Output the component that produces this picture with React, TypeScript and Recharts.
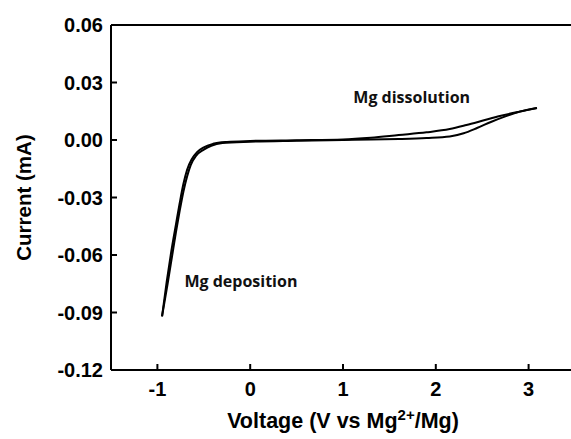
import React from 'react';
import { LineChart, Line, XAxis, YAxis, ReferenceLine, ReferenceDot, Label } from 'recharts';

// Cyclic voltammogram: two sweep branches that meet at the vertex potentials.
const upperVoltage = [-0.95, -0.9, -0.85, -0.8, -0.76, -0.72, -0.68, -0.63, -0.57, -0.5, -0.4, -0.25, 0, 0.5, 1.0, 1.3, 1.6, 1.9, 2.15, 2.33, 2.5, 2.69, 2.9, 3.09];
const upperCurrent = [-0.092, -0.074, -0.058, -0.044, -0.033, -0.023, -0.0155, -0.01, -0.0062, -0.0038, -0.002, -0.001, -0.0005, -0.0001, 0.0003, 0.0012, 0.0026, 0.004, 0.0057, 0.0078, 0.01, 0.0125, 0.0148, 0.0167];

const lowerVoltage = [-0.95, -0.89, -0.84, -0.8, -0.76, -0.72, -0.68, -0.64, -0.58, -0.5, -0.42, -0.3, 0, 0.5, 1.0, 1.3, 1.6, 1.9, 2.15, 2.3, 2.45, 2.6, 2.75, 2.9, 3.09];
const lowerCurrent = [-0.092, -0.075, -0.06, -0.048, -0.037, -0.027, -0.019, -0.013, -0.008, -0.005, -0.003, -0.0016, -0.0009, -0.0004, 0, 0.0002, 0.0005, 0.001, 0.0018, 0.0035, 0.0064, 0.0095, 0.0123, 0.0147, 0.0167];

const xTicks = [-1, 0, 1, 2, 3];
const yTicks = [-0.12, -0.09, -0.06, -0.03, 0, 0.03, 0.06];
const xDomain = [-1.5, 3.5];
const yDomain = [-0.12, 0.06];

const notes = [
  { text: 'Mg dissolution', v: 1.74, i: 0.0225 },
  { text: 'Mg deposition', v: -0.1, i: -0.0735 },
];

const upperBranch = upperVoltage.map((v, k) => ({ v, i: upperCurrent[k] }));
const lowerBranch = lowerVoltage.map((v, k) => ({ v, i: lowerCurrent[k] }));

const AXIS_FONT = '"Liberation Sans", Arial, Helvetica, sans-serif';
const NOTE_FONT = '"Open Sans", "Noto Sans", sans-serif';
const TICK_SIZE = 20;

const YTick = (props: any) => {
  const { x, y, payload } = props;
  return (
    <g>
      <line x1={x + 8} x2={x + 14} y1={y} y2={y} stroke="#000" strokeWidth={2} />
      <text x={x} y={y} dy="0.355em" textAnchor="end" fontFamily={AXIS_FONT} fontWeight={700} fontSize={TICK_SIZE} fill="#000">
        {Number(payload.value).toFixed(2)}
      </text>
    </g>
  );
};

const XTick = (props: any) => {
  const { x, y, payload } = props;
  return (
    <g>
      <line x1={x} x2={x} y1={y - 12} y2={y - 18} stroke="#000" strokeWidth={2} />
      <text x={x} y={y} dy="0.71em" textAnchor="middle" fontFamily={AXIS_FONT} fontWeight={700} fontSize={TICK_SIZE} fill="#000">
        {String(payload.value)}
      </text>
    </g>
  );
};

const XTitle = (props: any) => {
  const vb = props.viewBox;
  const cx = vb.x + vb.width / 2;
  const baseY = vb.y + 58;
  return (
    <text x={cx} y={baseY} textAnchor="middle" fontFamily={AXIS_FONT} fontWeight={700} fontSize={21.5} fill="#000">
      <tspan>Voltage (V vs Mg</tspan>
      <tspan fontSize={15} dy={-8}>2+</tspan>
      <tspan dy={8}>/Mg)</tspan>
    </text>
  );
};

const YTitle = (props: any) => {
  const vb = props.viewBox;
  const cx = vb.x + 23;
  const cy = vb.y + vb.height / 2;
  return (
    <text x={cx} y={cy} transform={`rotate(-90 ${cx} ${cy})`} textAnchor="middle" dominantBaseline="central" fontFamily={AXIS_FONT} fontWeight={700} fontSize={20.5} fill="#000">
      Current (mA)
    </text>
  );
};

const noteLabel = (text: string) => (props: any) => {
  const vb = props.viewBox;
  const cx = vb.x + vb.width / 2;
  const cy = vb.y + vb.height / 2;
  return (
    <text x={cx} y={cy} textAnchor="middle" dominantBaseline="central" fontFamily={NOTE_FONT} fontWeight={700} fontSize={16} fill="#111">
      {text}
    </text>
  );
};

export default function App() {
  return (
    <div style={{ position: 'fixed', left: 0, top: 0, width: 571, height: 439, overflow: 'hidden', background: '#fff' }}>
      <LineChart width={580} height={439} margin={{ top: 25, right: 5, bottom: 0, left: 0 }}>
        <XAxis
          type="number"
          dataKey="v"
          domain={xDomain}
          ticks={xTicks}
          allowDataOverflow
          height={69}
          tickSize={0}
          tickMargin={12}
          tick={<XTick />}
          axisLine={{ stroke: '#000', strokeWidth: 2 }}
          tickLine={false}
        >
          <Label content={<XTitle />} />
        </XAxis>
        <YAxis
          type="number"
          dataKey="i"
          domain={yDomain}
          ticks={yTicks}
          allowDataOverflow
          width={111}
          tickSize={0}
          tickMargin={8}
          tick={<YTick />}
          axisLine={{ stroke: '#000', strokeWidth: 2 }}
          tickLine={false}
        >
          <Label content={<YTitle />} />
        </YAxis>
        <ReferenceLine y={0.06} stroke="#000" strokeWidth={2} />
        <Line data={lowerBranch} dataKey="i" type="monotone" stroke="#000" strokeWidth={2} dot={false} isAnimationActive={false} />
        <Line data={upperBranch} dataKey="i" type="monotone" stroke="#000" strokeWidth={2} dot={false} isAnimationActive={false} />
        {notes.map((n) => (
          <ReferenceDot key={n.text} x={n.v} y={n.i} r={0} fill="none" stroke="none" label={<Label content={noteLabel(n.text)} />} />
        ))}
      </LineChart>
    </div>
  );
}
